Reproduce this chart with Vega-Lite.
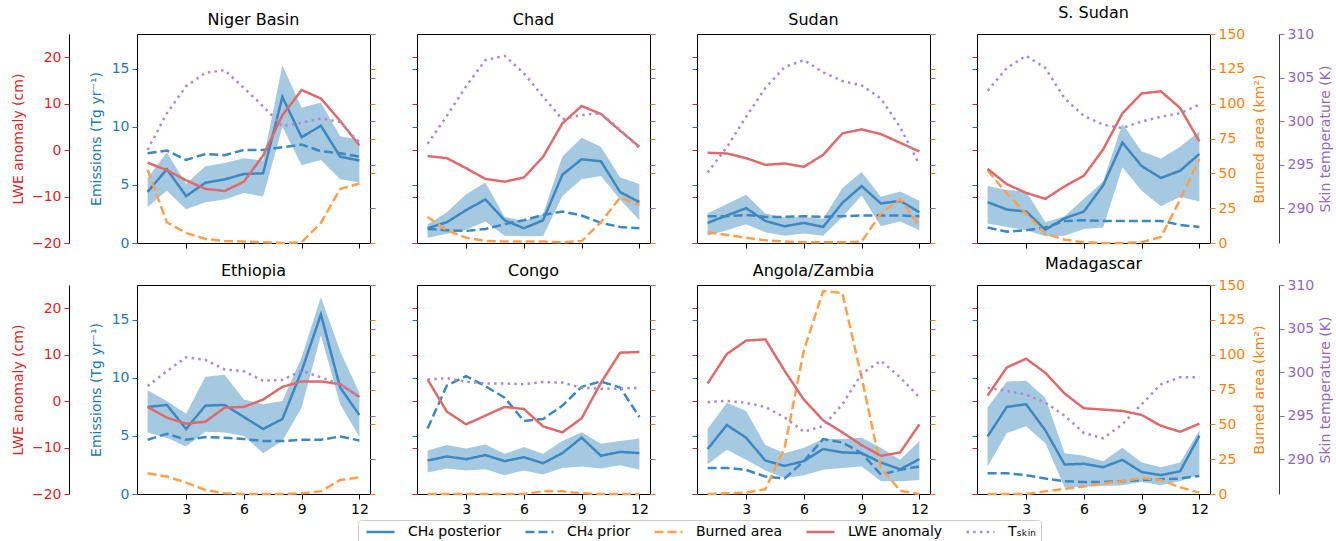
{
"$schema": "https://vega.github.io/schema/vega-lite/v6.json",
"padding": {"left": 10, "top": 4, "right": 0, "bottom": 0},
"datasets": {
"series": [
{"r":"Niger Basin","m":1,"post":4.4,"lo":3.1,"hi":5.6,"prior":7.73,"ba":52.7,"lwe":-2.7,"ts":296.7},
{"r":"Niger Basin","m":2,"post":6.35,"lo":4.5,"hi":7.8,"prior":7.96,"ba":14.9,"lwe":-4.3,"ts":300.9},
{"r":"Niger Basin","m":3,"post":4.04,"lo":2.9,"hi":5.1,"prior":7.15,"ba":7.2,"lwe":-6.5,"ts":304.0},
{"r":"Niger Basin","m":4,"post":5.19,"lo":3.5,"hi":6.6,"prior":7.67,"ba":2.9,"lwe":-8.35,"ts":305.55},
{"r":"Niger Basin","m":5,"post":5.48,"lo":3.75,"hi":6.9,"prior":7.56,"ba":1.4,"lwe":-8.8,"ts":305.86},
{"r":"Niger Basin","m":6,"post":5.94,"lo":4.3,"hi":7.3,"prior":8.02,"ba":1.0,"lwe":-6.8,"ts":303.8},
{"r":"Niger Basin","m":7,"post":6.0,"lo":4.0,"hi":7.1,"prior":8.02,"ba":0.5,"lwe":-1.15,"ts":301.7},
{"r":"Niger Basin","m":8,"post":12.58,"lo":10.0,"hi":15.3,"prior":8.25,"ba":0,"lwe":7.5,"ts":299.4},
{"r":"Niger Basin","m":9,"post":9.11,"lo":6.7,"hi":11.65,"prior":8.48,"ba":0.5,"lwe":12.95,"ts":299.8},
{"r":"Niger Basin","m":10,"post":10.1,"lo":7.15,"hi":12.1,"prior":7.9,"ba":14.4,"lwe":11.1,"ts":300.3},
{"r":"Niger Basin","m":11,"post":7.44,"lo":5.5,"hi":9.2,"prior":7.73,"ba":38.8,"lwe":6.3,"ts":299.9},
{"r":"Niger Basin","m":12,"post":7.1,"lo":5.2,"hi":8.9,"prior":7.44,"ba":42.7,"lwe":1.0,"ts":297.5},
{"r":"Chad","m":1,"post":1.27,"lo":0.46,"hi":1.6,"prior":1.21,"ba":18.7,"lwe":-1.29,"ts":297.4},
{"r":"Chad","m":2,"post":1.79,"lo":0.8,"hi":2.65,"prior":1.1,"ba":9.1,"lwe":-1.73,"ts":300.6},
{"r":"Chad","m":3,"post":2.83,"lo":1.15,"hi":4.2,"prior":1.04,"ba":3.8,"lwe":-3.9,"ts":304.0},
{"r":"Chad","m":4,"post":3.75,"lo":1.85,"hi":5.2,"prior":1.21,"ba":1.4,"lwe":-6.2,"ts":307.0},
{"r":"Chad","m":5,"post":1.96,"lo":0.63,"hi":2.25,"prior":1.62,"ba":1.0,"lwe":-6.8,"ts":307.5},
{"r":"Chad","m":6,"post":1.27,"lo":0.58,"hi":1.9,"prior":1.96,"ba":1.0,"lwe":-5.9,"ts":305.5},
{"r":"Chad","m":7,"post":1.96,"lo":0.6,"hi":2.5,"prior":2.42,"ba":1.0,"lwe":-1.44,"ts":302.8},
{"r":"Chad","m":8,"post":5.88,"lo":4.04,"hi":7.44,"prior":2.71,"ba":0.5,"lwe":5.76,"ts":300.2},
{"r":"Chad","m":9,"post":7.21,"lo":5.48,"hi":9.06,"prior":2.37,"ba":1.4,"lwe":9.5,"ts":300.7},
{"r":"Chad","m":10,"post":7.04,"lo":5.77,"hi":8.3,"prior":1.73,"ba":14.9,"lwe":7.77,"ts":300.9},
{"r":"Chad","m":11,"post":4.38,"lo":3.75,"hi":5.65,"prior":1.38,"ba":32.6,"lwe":4.17,"ts":299.0},
{"r":"Chad","m":12,"post":3.52,"lo":1.96,"hi":5.08,"prior":1.27,"ba":27.3,"lwe":0.72,"ts":296.9},
{"r":"Sudan","m":1,"post":1.73,"lo":0.63,"hi":2.54,"prior":2.31,"ba":7.7,"lwe":-0.58,"ts":294.1},
{"r":"Sudan","m":2,"post":2.37,"lo":1.1,"hi":3.35,"prior":2.31,"ba":5.8,"lwe":-0.72,"ts":297.0},
{"r":"Sudan","m":3,"post":3.0,"lo":1.62,"hi":4.15,"prior":2.42,"ba":3.8,"lwe":-1.73,"ts":300.5},
{"r":"Sudan","m":4,"post":1.9,"lo":0.92,"hi":2.54,"prior":2.25,"ba":1.9,"lwe":-3.17,"ts":303.8},
{"r":"Sudan","m":5,"post":1.44,"lo":0.63,"hi":2.19,"prior":2.25,"ba":1.0,"lwe":-2.88,"ts":306.2},
{"r":"Sudan","m":6,"post":1.73,"lo":0.81,"hi":2.25,"prior":2.31,"ba":0.5,"lwe":-3.6,"ts":307.0},
{"r":"Sudan","m":7,"post":1.38,"lo":0.63,"hi":2.08,"prior":2.25,"ba":0.5,"lwe":-1.0,"ts":305.6},
{"r":"Sudan","m":8,"post":3.46,"lo":2.25,"hi":4.73,"prior":2.31,"ba":0.5,"lwe":3.6,"ts":304.6},
{"r":"Sudan","m":9,"post":4.9,"lo":4.1,"hi":6.11,"prior":2.37,"ba":1.0,"lwe":4.46,"ts":304.1},
{"r":"Sudan","m":10,"post":3.4,"lo":1.44,"hi":3.98,"prior":2.37,"ba":21.1,"lwe":3.45,"ts":302.6},
{"r":"Sudan","m":11,"post":3.63,"lo":1.85,"hi":4.44,"prior":2.37,"ba":31.6,"lwe":1.58,"ts":299.3},
{"r":"Sudan","m":12,"post":2.65,"lo":1.1,"hi":3.63,"prior":2.31,"ba":12.5,"lwe":-0.29,"ts":295.0},
{"r":"S. Sudan","m":1,"post":3.52,"lo":1.67,"hi":4.9,"prior":1.33,"ba":52.2,"lwe":-4.03,"ts":303.5},
{"r":"S. Sudan","m":2,"post":2.88,"lo":1.38,"hi":4.56,"prior":0.98,"ba":35.5,"lwe":-7.34,"ts":306.1},
{"r":"S. Sudan","m":3,"post":2.71,"lo":1.1,"hi":4.44,"prior":1.1,"ba":21.1,"lwe":-9.2,"ts":307.5},
{"r":"S. Sudan","m":4,"post":1.15,"lo":0.58,"hi":1.79,"prior":1.33,"ba":6.7,"lwe":-10.5,"ts":306.1},
{"r":"S. Sudan","m":5,"post":2.13,"lo":0.63,"hi":2.31,"prior":1.9,"ba":2.4,"lwe":-7.8,"ts":302.6},
{"r":"S. Sudan","m":6,"post":2.71,"lo":1.21,"hi":3.81,"prior":1.96,"ba":0.5,"lwe":-5.5,"ts":300.6},
{"r":"S. Sudan","m":7,"post":4.96,"lo":1.33,"hi":5.3,"prior":1.9,"ba":0,"lwe":0.14,"ts":299.6},
{"r":"S. Sudan","m":8,"post":8.65,"lo":6.52,"hi":10.27,"prior":1.9,"ba":0,"lwe":7.9,"ts":299.2},
{"r":"S. Sudan","m":9,"post":6.63,"lo":4.5,"hi":7.9,"prior":1.9,"ba":0.5,"lwe":12.2,"ts":299.96},
{"r":"S. Sudan","m":10,"post":5.6,"lo":3.17,"hi":7.27,"prior":1.9,"ba":4.3,"lwe":12.66,"ts":300.5},
{"r":"S. Sudan","m":11,"post":6.23,"lo":3.98,"hi":8.3,"prior":1.56,"ba":31.2,"lwe":9.06,"ts":300.9},
{"r":"S. Sudan","m":12,"post":7.67,"lo":3.58,"hi":9.63,"prior":1.38,"ba":60.4,"lwe":1.87,"ts":301.9},
{"r":"Ethiopia","m":1,"post":7.5,"lo":5.3,"hi":8.94,"prior":4.67,"ba":14.9,"lwe":-1.25,"ts":298.4},
{"r":"Ethiopia","m":2,"post":7.67,"lo":4.85,"hi":8.0,"prior":5.19,"ba":12.5,"lwe":-3.56,"ts":300.1},
{"r":"Ethiopia","m":3,"post":5.6,"lo":4.1,"hi":6.92,"prior":4.67,"ba":8.2,"lwe":-4.86,"ts":301.7},
{"r":"Ethiopia","m":4,"post":7.61,"lo":5.36,"hi":10.1,"prior":4.9,"ba":2.9,"lwe":-4.43,"ts":301.4},
{"r":"Ethiopia","m":5,"post":7.67,"lo":5.3,"hi":10.27,"prior":4.85,"ba":0.5,"lwe":-1.4,"ts":300.3},
{"r":"Ethiopia","m":6,"post":6.63,"lo":5.0,"hi":8.13,"prior":4.73,"ba":0,"lwe":-1.25,"ts":300.1},
{"r":"Ethiopia","m":7,"post":5.6,"lo":3.52,"hi":7.73,"prior":4.56,"ba":0,"lwe":0.33,"ts":299.0},
{"r":"Ethiopia","m":8,"post":6.46,"lo":4.56,"hi":8.0,"prior":4.56,"ba":0,"lwe":3.07,"ts":299.1},
{"r":"Ethiopia","m":9,"post":10.6,"lo":7.44,"hi":11.77,"prior":4.67,"ba":0.5,"lwe":4.23,"ts":300.15},
{"r":"Ethiopia","m":10,"post":15.46,"lo":13.67,"hi":16.96,"prior":4.67,"ba":1.9,"lwe":4.23,"ts":299.4},
{"r":"Ethiopia","m":11,"post":9.17,"lo":7.73,"hi":12.3,"prior":4.96,"ba":10.1,"lwe":3.65,"ts":298.6},
{"r":"Ethiopia","m":12,"post":6.8,"lo":4.9,"hi":8.7,"prior":4.6,"ba":12.0,"lwe":0.9,"ts":297.1},
{"r":"Congo","m":1,"post":2.88,"lo":1.85,"hi":3.75,"prior":5.65,"ba":0,"lwe":4.66,"ts":299.15},
{"r":"Congo","m":2,"post":3.23,"lo":2.19,"hi":4.21,"prior":9.34,"ba":0,"lwe":-2.26,"ts":299.3},
{"r":"Congo","m":3,"post":3.0,"lo":2.02,"hi":3.92,"prior":10.15,"ba":0,"lwe":-5.0,"ts":298.9},
{"r":"Congo","m":4,"post":3.35,"lo":2.13,"hi":4.27,"prior":9.29,"ba":0,"lwe":-3.13,"ts":298.7},
{"r":"Congo","m":5,"post":2.83,"lo":1.62,"hi":3.46,"prior":8.3,"ba":0,"lwe":-1.25,"ts":298.7},
{"r":"Congo","m":6,"post":3.17,"lo":2.02,"hi":4.04,"prior":6.29,"ba":0,"lwe":-1.69,"ts":298.6},
{"r":"Congo","m":7,"post":2.65,"lo":1.67,"hi":3.46,"prior":6.46,"ba":1.9,"lwe":-5.44,"ts":298.85},
{"r":"Congo","m":8,"post":3.52,"lo":2.25,"hi":4.56,"prior":7.61,"ba":1.9,"lwe":-6.73,"ts":298.8},
{"r":"Congo","m":9,"post":4.85,"lo":2.37,"hi":5.31,"prior":9.23,"ba":0.5,"lwe":-3.71,"ts":298.2},
{"r":"Congo","m":10,"post":3.29,"lo":2.19,"hi":4.33,"prior":9.69,"ba":0,"lwe":3.94,"ts":298.1},
{"r":"Congo","m":11,"post":3.63,"lo":2.48,"hi":4.56,"prior":9.17,"ba":0,"lwe":10.43,"ts":298.1},
{"r":"Congo","m":12,"post":3.52,"lo":2.08,"hi":4.79,"prior":6.63,"ba":0,"lwe":10.57,"ts":298.2},
{"r":"Angola/Zambia","m":1,"post":3.87,"lo":2.54,"hi":5.6,"prior":2.25,"ba":0,"lwe":3.79,"ts":296.54},
{"r":"Angola/Zambia","m":2,"post":5.94,"lo":3.81,"hi":7.85,"prior":2.25,"ba":0.5,"lwe":10.14,"ts":296.7},
{"r":"Angola/Zambia","m":3,"post":4.85,"lo":2.94,"hi":7.15,"prior":2.08,"ba":1.0,"lwe":13.02,"ts":296.46},
{"r":"Angola/Zambia","m":4,"post":2.88,"lo":2.02,"hi":4.21,"prior":1.5,"ba":3.4,"lwe":13.3,"ts":296.0},
{"r":"Angola/Zambia","m":5,"post":2.42,"lo":1.38,"hi":3.52,"prior":1.33,"ba":33,"lwe":6.53,"ts":294.8},
{"r":"Angola/Zambia","m":6,"post":2.83,"lo":1.62,"hi":3.98,"prior":2.83,"ba":103,"lwe":0.33,"ts":293.15},
{"r":"Angola/Zambia","m":7,"post":3.87,"lo":2.08,"hi":4.73,"prior":4.73,"ba":145.7,"lwe":-4.14,"ts":293.8},
{"r":"Angola/Zambia","m":8,"post":3.58,"lo":2.25,"hi":4.73,"prior":4.44,"ba":144.2,"lwe":-6.73,"ts":296.3},
{"r":"Angola/Zambia","m":9,"post":3.52,"lo":2.37,"hi":4.85,"prior":3.52,"ba":83.7,"lwe":-9.47,"ts":299.8},
{"r":"Angola/Zambia","m":10,"post":2.71,"lo":1.1,"hi":3.98,"prior":1.67,"ba":18.75,"lwe":-11.78,"ts":301.3},
{"r":"Angola/Zambia","m":11,"post":2.13,"lo":1.1,"hi":2.94,"prior":2.08,"ba":2.4,"lwe":-11.06,"ts":299.4},
{"r":"Angola/Zambia","m":12,"post":3.0,"lo":1.21,"hi":4.56,"prior":2.37,"ba":0,"lwe":-5.0,"ts":297.1},
{"r":"Madagascar","m":1,"post":4.96,"lo":2.37,"hi":7.44,"prior":1.79,"ba":0,"lwe":1.2,"ts":298.2},
{"r":"Madagascar","m":2,"post":7.5,"lo":5.25,"hi":9.69,"prior":1.79,"ba":0,"lwe":7.25,"ts":297.85},
{"r":"Madagascar","m":3,"post":7.73,"lo":5.83,"hi":9.75,"prior":1.62,"ba":0,"lwe":9.13,"ts":297.4},
{"r":"Madagascar","m":4,"post":5.48,"lo":4.38,"hi":8.3,"prior":1.33,"ba":1.9,"lwe":6.1,"ts":296.5},
{"r":"Madagascar","m":5,"post":2.54,"lo":0.58,"hi":3.52,"prior":1.1,"ba":3.8,"lwe":1.63,"ts":295.0},
{"r":"Madagascar","m":6,"post":2.6,"lo":0.63,"hi":3.29,"prior":1.04,"ba":5.3,"lwe":-1.54,"ts":293.0},
{"r":"Madagascar","m":7,"post":2.31,"lo":0.69,"hi":2.83,"prior":1.04,"ba":7.7,"lwe":-1.83,"ts":292.4},
{"r":"Madagascar","m":8,"post":2.94,"lo":0.75,"hi":3.98,"prior":1.1,"ba":9.1,"lwe":-2.12,"ts":294.0},
{"r":"Madagascar","m":9,"post":1.9,"lo":1.04,"hi":2.71,"prior":1.21,"ba":11.5,"lwe":-2.98,"ts":296.3},
{"r":"Madagascar","m":10,"post":1.62,"lo":0.75,"hi":2.31,"prior":1.27,"ba":10.1,"lwe":-5.3,"ts":298.6},
{"r":"Madagascar","m":11,"post":1.96,"lo":1.1,"hi":2.71,"prior":1.33,"ba":4.8,"lwe":-6.6,"ts":299.4},
{"r":"Madagascar","m":12,"post":5.02,"lo":1.67,"hi":5.48,"prior":1.56,"ba":1.0,"lwe":-4.86,"ts":299.4}
],
"labels": [
{"r":"Niger Basin","tag":"(a)","r2":"r² = 0.7"},
{"r":"Chad","tag":"(b)","r2":"r² = 0.7"},
{"r":"Sudan","tag":"(c)","r2":"r² = 0.7"},
{"r":"S. Sudan","tag":"(d)","r2":"r² = 0.7"},
{"r":"Ethiopia","tag":"(e)","r2":"r² = 0.4"},
{"r":"Congo","tag":"(f)","r2":"r² = 0.0"},
{"r":"Angola/Zambia","tag":"(g)","r2":"r² = 0.2"},
{"r":"Madagascar","tag":"(h)","r2":"r² = 0.7"}
]
},
"concat": [
{"width":233,"height":209,"title":"Niger Basin","data":{"name":"series"},"transform":[{"filter":"datum.r === 'Niger Basin'"}],
"encoding":{"x":{"field":"m","type":"quantitative","scale":{"domain":[0.45,12.55],"nice":false,"zero":false},"axis":{"values":[3,6,9,12],"labels":false,"title":null,"tickColor":"black","domain":false,"grid":false}}},
"layer":[
{"mark":{"type":"area","color":"#a6c9e2","opacity":1},"encoding":{"y":{"field":"lo","type":"quantitative","scale":{"domain":[0,18],"nice":false,"zero":false},"axis":{"orient":"left","values":[0,5,10,15],"tickColor":"#1f77b4","labelColor":"#1f77b4","title":"Emissions (Tg yr⁻¹)","titleColor":"#1f77b4","titlePadding":8,"domain":false,"grid":false}},"y2":{"field":"hi"}}},
{"mark":{"type":"line","strokeWidth":2.5},"encoding":{"y":{"field":"post","type":"quantitative","scale":{"domain":[0,18],"nice":false,"zero":false},"axis":null},"color":{"datum":"CH₄ posterior","type":"nominal","scale":{"domain":["CH₄ posterior","CH₄ prior","Burned area","LWE anomaly","Tₛₖᵢₙ"],"range":["#3d88c0","#3d88c0","#ffa04f","#e06a6b","#ad89d4"]},"legend":{"orient":"none","legendX":221,"legendY":486,"direction":"horizontal","columns":5,"title":null}},"strokeDash":{"datum":"CH₄ posterior","type":"nominal","scale":{"domain":["CH₄ posterior","CH₄ prior","Burned area","LWE anomaly","Tₛₖᵢₙ"],"range":[[1,0],[9,4],[9,4],[1,0],[2.5,4.2]]},"legend":{"orient":"none","legendX":221,"legendY":486,"direction":"horizontal","columns":5,"title":null}}}},
{"mark":{"type":"line","strokeWidth":2.5},"encoding":{"y":{"field":"prior","type":"quantitative","scale":{"domain":[0,18],"nice":false,"zero":false},"axis":null},"color":{"datum":"CH₄ prior","type":"nominal","scale":{"domain":["CH₄ posterior","CH₄ prior","Burned area","LWE anomaly","Tₛₖᵢₙ"],"range":["#3d88c0","#3d88c0","#ffa04f","#e06a6b","#ad89d4"]}},"strokeDash":{"datum":"CH₄ prior","type":"nominal","scale":{"domain":["CH₄ posterior","CH₄ prior","Burned area","LWE anomaly","Tₛₖᵢₙ"],"range":[[1,0],[9,4],[9,4],[1,0],[2.5,4.2]]}}}},
{"mark":{"type":"line","strokeWidth":2.5},"encoding":{"y":{"field":"ba","type":"quantitative","scale":{"domain":[0,150],"nice":false,"zero":false},"axis":{"orient":"right","values":[0,25,50,75,100,125,150],"tickColor":"#ff7f0e","labels":false,"title":null,"domain":false,"grid":false}},"color":{"datum":"Burned area","type":"nominal","scale":{"domain":["CH₄ posterior","CH₄ prior","Burned area","LWE anomaly","Tₛₖᵢₙ"],"range":["#3d88c0","#3d88c0","#ffa04f","#e06a6b","#ad89d4"]}},"strokeDash":{"datum":"Burned area","type":"nominal","scale":{"domain":["CH₄ posterior","CH₄ prior","Burned area","LWE anomaly","Tₛₖᵢₙ"],"range":[[1,0],[9,4],[9,4],[1,0],[2.5,4.2]]}}}},
{"mark":{"type":"line","strokeWidth":2.5},"encoding":{"y":{"field":"lwe","type":"quantitative","scale":{"domain":[-20,25],"nice":false,"zero":false},"axis":{"orient":"left","offset":68,"values":[-20,-10,0,10,20],"tickColor":"#d62728","labelColor":"#d62728","title":"LWE anomaly (cm)","titleColor":"#d62728","titlePadding":6,"domain":true,"domainColor":"black","grid":false}},"color":{"datum":"LWE anomaly","type":"nominal","scale":{"domain":["CH₄ posterior","CH₄ prior","Burned area","LWE anomaly","Tₛₖᵢₙ"],"range":["#3d88c0","#3d88c0","#ffa04f","#e06a6b","#ad89d4"]}},"strokeDash":{"datum":"LWE anomaly","type":"nominal","scale":{"domain":["CH₄ posterior","CH₄ prior","Burned area","LWE anomaly","Tₛₖᵢₙ"],"range":[[1,0],[9,4],[9,4],[1,0],[2.5,4.2]]}}}},
{"mark":{"type":"line","strokeWidth":2.5},"encoding":{"y":{"field":"ts","type":"quantitative","scale":{"domain":[286,310],"nice":false,"zero":false},"axis":{"orient":"right","values":[290,295,300,305,310],"tickColor":"#9467bd","labels":false,"title":null,"domain":false,"grid":false}},"color":{"datum":"Tₛₖᵢₙ","type":"nominal","scale":{"domain":["CH₄ posterior","CH₄ prior","Burned area","LWE anomaly","Tₛₖᵢₙ"],"range":["#3d88c0","#3d88c0","#ffa04f","#e06a6b","#ad89d4"]}},"strokeDash":{"datum":"Tₛₖᵢₙ","type":"nominal","scale":{"domain":["CH₄ posterior","CH₄ prior","Burned area","LWE anomaly","Tₛₖᵢₙ"],"range":[[1,0],[9,4],[9,4],[1,0],[2.5,4.2]]}}}},
{"data":{"name":"labels"},"transform":[{"filter":"datum.r === 'Niger Basin'"}],"mark":{"type":"text","align":"left","baseline":"middle","fontSize":14,"color":"black"},"encoding":{"x":{"datum":1},"y":{"datum":16.4,"type":"quantitative","scale":{"domain":[0,18],"nice":false,"zero":false},"axis":null},"text":{"field":"tag"}}},
{"data":{"name":"labels"},"transform":[{"filter":"datum.r === 'Niger Basin'"}],"mark":{"type":"text","align":"left","baseline":"middle","fontSize":14,"color":"#d62728"},"encoding":{"x":{"datum":3},"y":{"datum":16.4,"type":"quantitative","scale":{"domain":[0,18],"nice":false,"zero":false},"axis":null},"text":{"field":"r2"}}}
],
"resolve":{"scale":{"y":"independent"},"axis":{"y":"independent"}}},

{"width":233,"height":209,"title":"Chad","data":{"name":"series"},"transform":[{"filter":"datum.r === 'Chad'"}],
"encoding":{"x":{"field":"m","type":"quantitative","scale":{"domain":[0.45,12.55],"nice":false,"zero":false},"axis":{"values":[3,6,9,12],"labels":false,"title":null,"tickColor":"black","domain":false,"grid":false}}},
"layer":[
{"mark":{"type":"area","color":"#a6c9e2","opacity":1},"encoding":{"y":{"field":"lo","type":"quantitative","scale":{"domain":[0,18],"nice":false,"zero":false},"axis":{"orient":"left","values":[0,5,10,15],"tickColor":"#1f77b4","labels":false,"title":null,"domain":false,"grid":false}},"y2":{"field":"hi"}}},
{"mark":{"type":"line","strokeWidth":2.5},"encoding":{"y":{"field":"post","type":"quantitative","scale":{"domain":[0,18],"nice":false,"zero":false},"axis":null},"color":{"datum":"CH₄ posterior","type":"nominal","scale":{"domain":["CH₄ posterior","CH₄ prior","Burned area","LWE anomaly","Tₛₖᵢₙ"],"range":["#3d88c0","#3d88c0","#ffa04f","#e06a6b","#ad89d4"]}},"strokeDash":{"datum":"CH₄ posterior","type":"nominal","scale":{"domain":["CH₄ posterior","CH₄ prior","Burned area","LWE anomaly","Tₛₖᵢₙ"],"range":[[1,0],[9,4],[9,4],[1,0],[2.5,4.2]]}}}},
{"mark":{"type":"line","strokeWidth":2.5},"encoding":{"y":{"field":"prior","type":"quantitative","scale":{"domain":[0,18],"nice":false,"zero":false},"axis":null},"color":{"datum":"CH₄ prior","type":"nominal","scale":{"domain":["CH₄ posterior","CH₄ prior","Burned area","LWE anomaly","Tₛₖᵢₙ"],"range":["#3d88c0","#3d88c0","#ffa04f","#e06a6b","#ad89d4"]}},"strokeDash":{"datum":"CH₄ prior","type":"nominal","scale":{"domain":["CH₄ posterior","CH₄ prior","Burned area","LWE anomaly","Tₛₖᵢₙ"],"range":[[1,0],[9,4],[9,4],[1,0],[2.5,4.2]]}}}},
{"mark":{"type":"line","strokeWidth":2.5},"encoding":{"y":{"field":"ba","type":"quantitative","scale":{"domain":[0,150],"nice":false,"zero":false},"axis":{"orient":"right","values":[0,25,50,75,100,125,150],"tickColor":"#ff7f0e","labels":false,"title":null,"domain":false,"grid":false}},"color":{"datum":"Burned area","type":"nominal","scale":{"domain":["CH₄ posterior","CH₄ prior","Burned area","LWE anomaly","Tₛₖᵢₙ"],"range":["#3d88c0","#3d88c0","#ffa04f","#e06a6b","#ad89d4"]}},"strokeDash":{"datum":"Burned area","type":"nominal","scale":{"domain":["CH₄ posterior","CH₄ prior","Burned area","LWE anomaly","Tₛₖᵢₙ"],"range":[[1,0],[9,4],[9,4],[1,0],[2.5,4.2]]}}}},
{"mark":{"type":"line","strokeWidth":2.5},"encoding":{"y":{"field":"lwe","type":"quantitative","scale":{"domain":[-20,25],"nice":false,"zero":false},"axis":{"orient":"left","values":[-20,-10,0,10,20],"tickColor":"#d62728","labels":false,"title":null,"domain":false,"grid":false}},"color":{"datum":"LWE anomaly","type":"nominal","scale":{"domain":["CH₄ posterior","CH₄ prior","Burned area","LWE anomaly","Tₛₖᵢₙ"],"range":["#3d88c0","#3d88c0","#ffa04f","#e06a6b","#ad89d4"]}},"strokeDash":{"datum":"LWE anomaly","type":"nominal","scale":{"domain":["CH₄ posterior","CH₄ prior","Burned area","LWE anomaly","Tₛₖᵢₙ"],"range":[[1,0],[9,4],[9,4],[1,0],[2.5,4.2]]}}}},
{"mark":{"type":"line","strokeWidth":2.5},"encoding":{"y":{"field":"ts","type":"quantitative","scale":{"domain":[286,310],"nice":false,"zero":false},"axis":{"orient":"right","values":[290,295,300,305,310],"tickColor":"#9467bd","labels":false,"title":null,"domain":false,"grid":false}},"color":{"datum":"Tₛₖᵢₙ","type":"nominal","scale":{"domain":["CH₄ posterior","CH₄ prior","Burned area","LWE anomaly","Tₛₖᵢₙ"],"range":["#3d88c0","#3d88c0","#ffa04f","#e06a6b","#ad89d4"]}},"strokeDash":{"datum":"Tₛₖᵢₙ","type":"nominal","scale":{"domain":["CH₄ posterior","CH₄ prior","Burned area","LWE anomaly","Tₛₖᵢₙ"],"range":[[1,0],[9,4],[9,4],[1,0],[2.5,4.2]]}}}},
{"data":{"name":"labels"},"transform":[{"filter":"datum.r === 'Chad'"}],"mark":{"type":"text","align":"left","baseline":"middle","fontSize":14,"color":"black"},"encoding":{"x":{"datum":1},"y":{"datum":16.4,"type":"quantitative","scale":{"domain":[0,18],"nice":false,"zero":false},"axis":null},"text":{"field":"tag"}}},
{"data":{"name":"labels"},"transform":[{"filter":"datum.r === 'Chad'"}],"mark":{"type":"text","align":"left","baseline":"middle","fontSize":14,"color":"#d62728"},"encoding":{"x":{"datum":3},"y":{"datum":16.4,"type":"quantitative","scale":{"domain":[0,18],"nice":false,"zero":false},"axis":null},"text":{"field":"r2"}}}
],
"resolve":{"scale":{"y":"independent"},"axis":{"y":"independent"}}},

{"width":233,"height":209,"title":"Sudan","data":{"name":"series"},"transform":[{"filter":"datum.r === 'Sudan'"}],
"encoding":{"x":{"field":"m","type":"quantitative","scale":{"domain":[0.45,12.55],"nice":false,"zero":false},"axis":{"values":[3,6,9,12],"labels":false,"title":null,"tickColor":"black","domain":false,"grid":false}}},
"layer":[
{"mark":{"type":"area","color":"#a6c9e2","opacity":1},"encoding":{"y":{"field":"lo","type":"quantitative","scale":{"domain":[0,18],"nice":false,"zero":false},"axis":{"orient":"left","values":[0,5,10,15],"tickColor":"#1f77b4","labels":false,"title":null,"domain":false,"grid":false}},"y2":{"field":"hi"}}},
{"mark":{"type":"line","strokeWidth":2.5},"encoding":{"y":{"field":"post","type":"quantitative","scale":{"domain":[0,18],"nice":false,"zero":false},"axis":null},"color":{"datum":"CH₄ posterior","type":"nominal","scale":{"domain":["CH₄ posterior","CH₄ prior","Burned area","LWE anomaly","Tₛₖᵢₙ"],"range":["#3d88c0","#3d88c0","#ffa04f","#e06a6b","#ad89d4"]}},"strokeDash":{"datum":"CH₄ posterior","type":"nominal","scale":{"domain":["CH₄ posterior","CH₄ prior","Burned area","LWE anomaly","Tₛₖᵢₙ"],"range":[[1,0],[9,4],[9,4],[1,0],[2.5,4.2]]}}}},
{"mark":{"type":"line","strokeWidth":2.5},"encoding":{"y":{"field":"prior","type":"quantitative","scale":{"domain":[0,18],"nice":false,"zero":false},"axis":null},"color":{"datum":"CH₄ prior","type":"nominal","scale":{"domain":["CH₄ posterior","CH₄ prior","Burned area","LWE anomaly","Tₛₖᵢₙ"],"range":["#3d88c0","#3d88c0","#ffa04f","#e06a6b","#ad89d4"]}},"strokeDash":{"datum":"CH₄ prior","type":"nominal","scale":{"domain":["CH₄ posterior","CH₄ prior","Burned area","LWE anomaly","Tₛₖᵢₙ"],"range":[[1,0],[9,4],[9,4],[1,0],[2.5,4.2]]}}}},
{"mark":{"type":"line","strokeWidth":2.5},"encoding":{"y":{"field":"ba","type":"quantitative","scale":{"domain":[0,150],"nice":false,"zero":false},"axis":{"orient":"right","values":[0,25,50,75,100,125,150],"tickColor":"#ff7f0e","labels":false,"title":null,"domain":false,"grid":false}},"color":{"datum":"Burned area","type":"nominal","scale":{"domain":["CH₄ posterior","CH₄ prior","Burned area","LWE anomaly","Tₛₖᵢₙ"],"range":["#3d88c0","#3d88c0","#ffa04f","#e06a6b","#ad89d4"]}},"strokeDash":{"datum":"Burned area","type":"nominal","scale":{"domain":["CH₄ posterior","CH₄ prior","Burned area","LWE anomaly","Tₛₖᵢₙ"],"range":[[1,0],[9,4],[9,4],[1,0],[2.5,4.2]]}}}},
{"mark":{"type":"line","strokeWidth":2.5},"encoding":{"y":{"field":"lwe","type":"quantitative","scale":{"domain":[-20,25],"nice":false,"zero":false},"axis":{"orient":"left","values":[-20,-10,0,10,20],"tickColor":"#d62728","labels":false,"title":null,"domain":false,"grid":false}},"color":{"datum":"LWE anomaly","type":"nominal","scale":{"domain":["CH₄ posterior","CH₄ prior","Burned area","LWE anomaly","Tₛₖᵢₙ"],"range":["#3d88c0","#3d88c0","#ffa04f","#e06a6b","#ad89d4"]}},"strokeDash":{"datum":"LWE anomaly","type":"nominal","scale":{"domain":["CH₄ posterior","CH₄ prior","Burned area","LWE anomaly","Tₛₖᵢₙ"],"range":[[1,0],[9,4],[9,4],[1,0],[2.5,4.2]]}}}},
{"mark":{"type":"line","strokeWidth":2.5},"encoding":{"y":{"field":"ts","type":"quantitative","scale":{"domain":[286,310],"nice":false,"zero":false},"axis":{"orient":"right","values":[290,295,300,305,310],"tickColor":"#9467bd","labels":false,"title":null,"domain":false,"grid":false}},"color":{"datum":"Tₛₖᵢₙ","type":"nominal","scale":{"domain":["CH₄ posterior","CH₄ prior","Burned area","LWE anomaly","Tₛₖᵢₙ"],"range":["#3d88c0","#3d88c0","#ffa04f","#e06a6b","#ad89d4"]}},"strokeDash":{"datum":"Tₛₖᵢₙ","type":"nominal","scale":{"domain":["CH₄ posterior","CH₄ prior","Burned area","LWE anomaly","Tₛₖᵢₙ"],"range":[[1,0],[9,4],[9,4],[1,0],[2.5,4.2]]}}}},
{"data":{"name":"labels"},"transform":[{"filter":"datum.r === 'Sudan'"}],"mark":{"type":"text","align":"left","baseline":"middle","fontSize":14,"color":"black"},"encoding":{"x":{"datum":1},"y":{"datum":16.4,"type":"quantitative","scale":{"domain":[0,18],"nice":false,"zero":false},"axis":null},"text":{"field":"tag"}}},
{"data":{"name":"labels"},"transform":[{"filter":"datum.r === 'Sudan'"}],"mark":{"type":"text","align":"left","baseline":"middle","fontSize":14,"color":"#d62728"},"encoding":{"x":{"datum":3},"y":{"datum":16.4,"type":"quantitative","scale":{"domain":[0,18],"nice":false,"zero":false},"axis":null},"text":{"field":"r2"}}}
],
"resolve":{"scale":{"y":"independent"},"axis":{"y":"independent"}}},

{"width":233,"height":209,"title":"S. Sudan","data":{"name":"series"},"transform":[{"filter":"datum.r === 'S. Sudan'"}],
"encoding":{"x":{"field":"m","type":"quantitative","scale":{"domain":[0.45,12.55],"nice":false,"zero":false},"axis":{"values":[3,6,9,12],"labels":false,"title":null,"tickColor":"black","domain":false,"grid":false}}},
"layer":[
{"mark":{"type":"area","color":"#a6c9e2","opacity":1},"encoding":{"y":{"field":"lo","type":"quantitative","scale":{"domain":[0,18],"nice":false,"zero":false},"axis":{"orient":"left","values":[0,5,10,15],"tickColor":"#1f77b4","labels":false,"title":null,"domain":false,"grid":false}},"y2":{"field":"hi"}}},
{"mark":{"type":"line","strokeWidth":2.5},"encoding":{"y":{"field":"post","type":"quantitative","scale":{"domain":[0,18],"nice":false,"zero":false},"axis":null},"color":{"datum":"CH₄ posterior","type":"nominal","scale":{"domain":["CH₄ posterior","CH₄ prior","Burned area","LWE anomaly","Tₛₖᵢₙ"],"range":["#3d88c0","#3d88c0","#ffa04f","#e06a6b","#ad89d4"]}},"strokeDash":{"datum":"CH₄ posterior","type":"nominal","scale":{"domain":["CH₄ posterior","CH₄ prior","Burned area","LWE anomaly","Tₛₖᵢₙ"],"range":[[1,0],[9,4],[9,4],[1,0],[2.5,4.2]]}}}},
{"mark":{"type":"line","strokeWidth":2.5},"encoding":{"y":{"field":"prior","type":"quantitative","scale":{"domain":[0,18],"nice":false,"zero":false},"axis":null},"color":{"datum":"CH₄ prior","type":"nominal","scale":{"domain":["CH₄ posterior","CH₄ prior","Burned area","LWE anomaly","Tₛₖᵢₙ"],"range":["#3d88c0","#3d88c0","#ffa04f","#e06a6b","#ad89d4"]}},"strokeDash":{"datum":"CH₄ prior","type":"nominal","scale":{"domain":["CH₄ posterior","CH₄ prior","Burned area","LWE anomaly","Tₛₖᵢₙ"],"range":[[1,0],[9,4],[9,4],[1,0],[2.5,4.2]]}}}},
{"mark":{"type":"line","strokeWidth":2.5},"encoding":{"y":{"field":"ba","type":"quantitative","scale":{"domain":[0,150],"nice":false,"zero":false},"axis":{"orient":"right","values":[0,25,50,75,100,125,150],"tickColor":"#ff7f0e","labelColor":"#ff7f0e","title":"Burned area (km²)","titleColor":"#ff7f0e","titleAngle":270,"titleBaseline":"top","titlePadding":8,"domain":false,"grid":false}},"color":{"datum":"Burned area","type":"nominal","scale":{"domain":["CH₄ posterior","CH₄ prior","Burned area","LWE anomaly","Tₛₖᵢₙ"],"range":["#3d88c0","#3d88c0","#ffa04f","#e06a6b","#ad89d4"]}},"strokeDash":{"datum":"Burned area","type":"nominal","scale":{"domain":["CH₄ posterior","CH₄ prior","Burned area","LWE anomaly","Tₛₖᵢₙ"],"range":[[1,0],[9,4],[9,4],[1,0],[2.5,4.2]]}}}},
{"mark":{"type":"line","strokeWidth":2.5},"encoding":{"y":{"field":"lwe","type":"quantitative","scale":{"domain":[-20,25],"nice":false,"zero":false},"axis":{"orient":"left","values":[-20,-10,0,10,20],"tickColor":"#d62728","labels":false,"title":null,"domain":false,"grid":false}},"color":{"datum":"LWE anomaly","type":"nominal","scale":{"domain":["CH₄ posterior","CH₄ prior","Burned area","LWE anomaly","Tₛₖᵢₙ"],"range":["#3d88c0","#3d88c0","#ffa04f","#e06a6b","#ad89d4"]}},"strokeDash":{"datum":"LWE anomaly","type":"nominal","scale":{"domain":["CH₄ posterior","CH₄ prior","Burned area","LWE anomaly","Tₛₖᵢₙ"],"range":[[1,0],[9,4],[9,4],[1,0],[2.5,4.2]]}}}},
{"mark":{"type":"line","strokeWidth":2.5},"encoding":{"y":{"field":"ts","type":"quantitative","scale":{"domain":[286,310],"nice":false,"zero":false},"axis":{"orient":"right","offset":69,"values":[290,295,300,305,310],"tickColor":"#9467bd","labelColor":"#9467bd","title":"Skin temperature (K)","titleColor":"#9467bd","titleAngle":270,"titleBaseline":"top","titlePadding":5,"domain":true,"domainColor":"#333333","grid":false}},"color":{"datum":"Tₛₖᵢₙ","type":"nominal","scale":{"domain":["CH₄ posterior","CH₄ prior","Burned area","LWE anomaly","Tₛₖᵢₙ"],"range":["#3d88c0","#3d88c0","#ffa04f","#e06a6b","#ad89d4"]}},"strokeDash":{"datum":"Tₛₖᵢₙ","type":"nominal","scale":{"domain":["CH₄ posterior","CH₄ prior","Burned area","LWE anomaly","Tₛₖᵢₙ"],"range":[[1,0],[9,4],[9,4],[1,0],[2.5,4.2]]}}}},
{"data":{"name":"labels"},"transform":[{"filter":"datum.r === 'S. Sudan'"}],"mark":{"type":"text","align":"left","baseline":"middle","fontSize":14,"color":"black"},"encoding":{"x":{"datum":1},"y":{"datum":16.4,"type":"quantitative","scale":{"domain":[0,18],"nice":false,"zero":false},"axis":null},"text":{"field":"tag"}}},
{"data":{"name":"labels"},"transform":[{"filter":"datum.r === 'S. Sudan'"}],"mark":{"type":"text","align":"left","baseline":"middle","fontSize":14,"color":"#d62728"},"encoding":{"x":{"datum":3},"y":{"datum":16.4,"type":"quantitative","scale":{"domain":[0,18],"nice":false,"zero":false},"axis":null},"text":{"field":"r2"}}}
],
"resolve":{"scale":{"y":"independent"},"axis":{"y":"independent"}}},

{"width":233,"height":209,"title":"Ethiopia","data":{"name":"series"},"transform":[{"filter":"datum.r === 'Ethiopia'"}],
"encoding":{"x":{"field":"m","type":"quantitative","scale":{"domain":[0.45,12.55],"nice":false,"zero":false},"axis":{"values":[3,6,9,12],"title":null,"tickColor":"black","labelColor":"black","domain":false,"grid":false}}},
"layer":[
{"mark":{"type":"area","color":"#a6c9e2","opacity":1},"encoding":{"y":{"field":"lo","type":"quantitative","scale":{"domain":[0,18],"nice":false,"zero":false},"axis":{"orient":"left","values":[0,5,10,15],"tickColor":"#1f77b4","labelColor":"#1f77b4","title":"Emissions (Tg yr⁻¹)","titleColor":"#1f77b4","titlePadding":8,"domain":false,"grid":false}},"y2":{"field":"hi"}}},
{"mark":{"type":"line","strokeWidth":2.5},"encoding":{"y":{"field":"post","type":"quantitative","scale":{"domain":[0,18],"nice":false,"zero":false},"axis":null},"color":{"datum":"CH₄ posterior","type":"nominal","scale":{"domain":["CH₄ posterior","CH₄ prior","Burned area","LWE anomaly","Tₛₖᵢₙ"],"range":["#3d88c0","#3d88c0","#ffa04f","#e06a6b","#ad89d4"]}},"strokeDash":{"datum":"CH₄ posterior","type":"nominal","scale":{"domain":["CH₄ posterior","CH₄ prior","Burned area","LWE anomaly","Tₛₖᵢₙ"],"range":[[1,0],[9,4],[9,4],[1,0],[2.5,4.2]]}}}},
{"mark":{"type":"line","strokeWidth":2.5},"encoding":{"y":{"field":"prior","type":"quantitative","scale":{"domain":[0,18],"nice":false,"zero":false},"axis":null},"color":{"datum":"CH₄ prior","type":"nominal","scale":{"domain":["CH₄ posterior","CH₄ prior","Burned area","LWE anomaly","Tₛₖᵢₙ"],"range":["#3d88c0","#3d88c0","#ffa04f","#e06a6b","#ad89d4"]}},"strokeDash":{"datum":"CH₄ prior","type":"nominal","scale":{"domain":["CH₄ posterior","CH₄ prior","Burned area","LWE anomaly","Tₛₖᵢₙ"],"range":[[1,0],[9,4],[9,4],[1,0],[2.5,4.2]]}}}},
{"mark":{"type":"line","strokeWidth":2.5},"encoding":{"y":{"field":"ba","type":"quantitative","scale":{"domain":[0,150],"nice":false,"zero":false},"axis":{"orient":"right","values":[0,25,50,75,100,125,150],"tickColor":"#ff7f0e","labels":false,"title":null,"domain":false,"grid":false}},"color":{"datum":"Burned area","type":"nominal","scale":{"domain":["CH₄ posterior","CH₄ prior","Burned area","LWE anomaly","Tₛₖᵢₙ"],"range":["#3d88c0","#3d88c0","#ffa04f","#e06a6b","#ad89d4"]}},"strokeDash":{"datum":"Burned area","type":"nominal","scale":{"domain":["CH₄ posterior","CH₄ prior","Burned area","LWE anomaly","Tₛₖᵢₙ"],"range":[[1,0],[9,4],[9,4],[1,0],[2.5,4.2]]}}}},
{"mark":{"type":"line","strokeWidth":2.5},"encoding":{"y":{"field":"lwe","type":"quantitative","scale":{"domain":[-20,25],"nice":false,"zero":false},"axis":{"orient":"left","offset":68,"values":[-20,-10,0,10,20],"tickColor":"#d62728","labelColor":"#d62728","title":"LWE anomaly (cm)","titleColor":"#d62728","titlePadding":6,"domain":true,"domainColor":"black","grid":false}},"color":{"datum":"LWE anomaly","type":"nominal","scale":{"domain":["CH₄ posterior","CH₄ prior","Burned area","LWE anomaly","Tₛₖᵢₙ"],"range":["#3d88c0","#3d88c0","#ffa04f","#e06a6b","#ad89d4"]}},"strokeDash":{"datum":"LWE anomaly","type":"nominal","scale":{"domain":["CH₄ posterior","CH₄ prior","Burned area","LWE anomaly","Tₛₖᵢₙ"],"range":[[1,0],[9,4],[9,4],[1,0],[2.5,4.2]]}}}},
{"mark":{"type":"line","strokeWidth":2.5},"encoding":{"y":{"field":"ts","type":"quantitative","scale":{"domain":[286,310],"nice":false,"zero":false},"axis":{"orient":"right","values":[290,295,300,305,310],"tickColor":"#9467bd","labels":false,"title":null,"domain":false,"grid":false}},"color":{"datum":"Tₛₖᵢₙ","type":"nominal","scale":{"domain":["CH₄ posterior","CH₄ prior","Burned area","LWE anomaly","Tₛₖᵢₙ"],"range":["#3d88c0","#3d88c0","#ffa04f","#e06a6b","#ad89d4"]}},"strokeDash":{"datum":"Tₛₖᵢₙ","type":"nominal","scale":{"domain":["CH₄ posterior","CH₄ prior","Burned area","LWE anomaly","Tₛₖᵢₙ"],"range":[[1,0],[9,4],[9,4],[1,0],[2.5,4.2]]}}}},
{"data":{"name":"labels"},"transform":[{"filter":"datum.r === 'Ethiopia'"}],"mark":{"type":"text","align":"left","baseline":"middle","fontSize":14,"color":"black"},"encoding":{"x":{"datum":1},"y":{"datum":16.4,"type":"quantitative","scale":{"domain":[0,18],"nice":false,"zero":false},"axis":null},"text":{"field":"tag"}}},
{"data":{"name":"labels"},"transform":[{"filter":"datum.r === 'Ethiopia'"}],"mark":{"type":"text","align":"left","baseline":"middle","fontSize":14,"color":"#d62728"},"encoding":{"x":{"datum":3},"y":{"datum":16.4,"type":"quantitative","scale":{"domain":[0,18],"nice":false,"zero":false},"axis":null},"text":{"field":"r2"}}}
],
"resolve":{"scale":{"y":"independent"},"axis":{"y":"independent"}}},

{"width":233,"height":209,"title":"Congo","data":{"name":"series"},"transform":[{"filter":"datum.r === 'Congo'"}],
"encoding":{"x":{"field":"m","type":"quantitative","scale":{"domain":[0.45,12.55],"nice":false,"zero":false},"axis":{"values":[3,6,9,12],"title":null,"tickColor":"black","labelColor":"black","domain":false,"grid":false}}},
"layer":[
{"mark":{"type":"area","color":"#a6c9e2","opacity":1},"encoding":{"y":{"field":"lo","type":"quantitative","scale":{"domain":[0,18],"nice":false,"zero":false},"axis":{"orient":"left","values":[0,5,10,15],"tickColor":"#1f77b4","labels":false,"title":null,"domain":false,"grid":false}},"y2":{"field":"hi"}}},
{"mark":{"type":"line","strokeWidth":2.5},"encoding":{"y":{"field":"post","type":"quantitative","scale":{"domain":[0,18],"nice":false,"zero":false},"axis":null},"color":{"datum":"CH₄ posterior","type":"nominal","scale":{"domain":["CH₄ posterior","CH₄ prior","Burned area","LWE anomaly","Tₛₖᵢₙ"],"range":["#3d88c0","#3d88c0","#ffa04f","#e06a6b","#ad89d4"]}},"strokeDash":{"datum":"CH₄ posterior","type":"nominal","scale":{"domain":["CH₄ posterior","CH₄ prior","Burned area","LWE anomaly","Tₛₖᵢₙ"],"range":[[1,0],[9,4],[9,4],[1,0],[2.5,4.2]]}}}},
{"mark":{"type":"line","strokeWidth":2.5},"encoding":{"y":{"field":"prior","type":"quantitative","scale":{"domain":[0,18],"nice":false,"zero":false},"axis":null},"color":{"datum":"CH₄ prior","type":"nominal","scale":{"domain":["CH₄ posterior","CH₄ prior","Burned area","LWE anomaly","Tₛₖᵢₙ"],"range":["#3d88c0","#3d88c0","#ffa04f","#e06a6b","#ad89d4"]}},"strokeDash":{"datum":"CH₄ prior","type":"nominal","scale":{"domain":["CH₄ posterior","CH₄ prior","Burned area","LWE anomaly","Tₛₖᵢₙ"],"range":[[1,0],[9,4],[9,4],[1,0],[2.5,4.2]]}}}},
{"mark":{"type":"line","strokeWidth":2.5},"encoding":{"y":{"field":"ba","type":"quantitative","scale":{"domain":[0,150],"nice":false,"zero":false},"axis":{"orient":"right","values":[0,25,50,75,100,125,150],"tickColor":"#ff7f0e","labels":false,"title":null,"domain":false,"grid":false}},"color":{"datum":"Burned area","type":"nominal","scale":{"domain":["CH₄ posterior","CH₄ prior","Burned area","LWE anomaly","Tₛₖᵢₙ"],"range":["#3d88c0","#3d88c0","#ffa04f","#e06a6b","#ad89d4"]}},"strokeDash":{"datum":"Burned area","type":"nominal","scale":{"domain":["CH₄ posterior","CH₄ prior","Burned area","LWE anomaly","Tₛₖᵢₙ"],"range":[[1,0],[9,4],[9,4],[1,0],[2.5,4.2]]}}}},
{"mark":{"type":"line","strokeWidth":2.5},"encoding":{"y":{"field":"lwe","type":"quantitative","scale":{"domain":[-20,25],"nice":false,"zero":false},"axis":{"orient":"left","values":[-20,-10,0,10,20],"tickColor":"#d62728","labels":false,"title":null,"domain":false,"grid":false}},"color":{"datum":"LWE anomaly","type":"nominal","scale":{"domain":["CH₄ posterior","CH₄ prior","Burned area","LWE anomaly","Tₛₖᵢₙ"],"range":["#3d88c0","#3d88c0","#ffa04f","#e06a6b","#ad89d4"]}},"strokeDash":{"datum":"LWE anomaly","type":"nominal","scale":{"domain":["CH₄ posterior","CH₄ prior","Burned area","LWE anomaly","Tₛₖᵢₙ"],"range":[[1,0],[9,4],[9,4],[1,0],[2.5,4.2]]}}}},
{"mark":{"type":"line","strokeWidth":2.5},"encoding":{"y":{"field":"ts","type":"quantitative","scale":{"domain":[286,310],"nice":false,"zero":false},"axis":{"orient":"right","values":[290,295,300,305,310],"tickColor":"#9467bd","labels":false,"title":null,"domain":false,"grid":false}},"color":{"datum":"Tₛₖᵢₙ","type":"nominal","scale":{"domain":["CH₄ posterior","CH₄ prior","Burned area","LWE anomaly","Tₛₖᵢₙ"],"range":["#3d88c0","#3d88c0","#ffa04f","#e06a6b","#ad89d4"]}},"strokeDash":{"datum":"Tₛₖᵢₙ","type":"nominal","scale":{"domain":["CH₄ posterior","CH₄ prior","Burned area","LWE anomaly","Tₛₖᵢₙ"],"range":[[1,0],[9,4],[9,4],[1,0],[2.5,4.2]]}}}},
{"data":{"name":"labels"},"transform":[{"filter":"datum.r === 'Congo'"}],"mark":{"type":"text","align":"left","baseline":"middle","fontSize":14,"color":"black"},"encoding":{"x":{"datum":1},"y":{"datum":16.4,"type":"quantitative","scale":{"domain":[0,18],"nice":false,"zero":false},"axis":null},"text":{"field":"tag"}}},
{"data":{"name":"labels"},"transform":[{"filter":"datum.r === 'Congo'"}],"mark":{"type":"text","align":"left","baseline":"middle","fontSize":14,"color":"#d62728"},"encoding":{"x":{"datum":3},"y":{"datum":16.4,"type":"quantitative","scale":{"domain":[0,18],"nice":false,"zero":false},"axis":null},"text":{"field":"r2"}}}
],
"resolve":{"scale":{"y":"independent"},"axis":{"y":"independent"}}},

{"width":233,"height":209,"title":"Angola/Zambia","data":{"name":"series"},"transform":[{"filter":"datum.r === 'Angola/Zambia'"}],
"encoding":{"x":{"field":"m","type":"quantitative","scale":{"domain":[0.45,12.55],"nice":false,"zero":false},"axis":{"values":[3,6,9,12],"title":null,"tickColor":"black","labelColor":"black","domain":false,"grid":false}}},
"layer":[
{"mark":{"type":"area","color":"#a6c9e2","opacity":1},"encoding":{"y":{"field":"lo","type":"quantitative","scale":{"domain":[0,18],"nice":false,"zero":false},"axis":{"orient":"left","values":[0,5,10,15],"tickColor":"#1f77b4","labels":false,"title":null,"domain":false,"grid":false}},"y2":{"field":"hi"}}},
{"mark":{"type":"line","strokeWidth":2.5},"encoding":{"y":{"field":"post","type":"quantitative","scale":{"domain":[0,18],"nice":false,"zero":false},"axis":null},"color":{"datum":"CH₄ posterior","type":"nominal","scale":{"domain":["CH₄ posterior","CH₄ prior","Burned area","LWE anomaly","Tₛₖᵢₙ"],"range":["#3d88c0","#3d88c0","#ffa04f","#e06a6b","#ad89d4"]}},"strokeDash":{"datum":"CH₄ posterior","type":"nominal","scale":{"domain":["CH₄ posterior","CH₄ prior","Burned area","LWE anomaly","Tₛₖᵢₙ"],"range":[[1,0],[9,4],[9,4],[1,0],[2.5,4.2]]}}}},
{"mark":{"type":"line","strokeWidth":2.5},"encoding":{"y":{"field":"prior","type":"quantitative","scale":{"domain":[0,18],"nice":false,"zero":false},"axis":null},"color":{"datum":"CH₄ prior","type":"nominal","scale":{"domain":["CH₄ posterior","CH₄ prior","Burned area","LWE anomaly","Tₛₖᵢₙ"],"range":["#3d88c0","#3d88c0","#ffa04f","#e06a6b","#ad89d4"]}},"strokeDash":{"datum":"CH₄ prior","type":"nominal","scale":{"domain":["CH₄ posterior","CH₄ prior","Burned area","LWE anomaly","Tₛₖᵢₙ"],"range":[[1,0],[9,4],[9,4],[1,0],[2.5,4.2]]}}}},
{"mark":{"type":"line","strokeWidth":2.5},"encoding":{"y":{"field":"ba","type":"quantitative","scale":{"domain":[0,150],"nice":false,"zero":false},"axis":{"orient":"right","values":[0,25,50,75,100,125,150],"tickColor":"#ff7f0e","labels":false,"title":null,"domain":false,"grid":false}},"color":{"datum":"Burned area","type":"nominal","scale":{"domain":["CH₄ posterior","CH₄ prior","Burned area","LWE anomaly","Tₛₖᵢₙ"],"range":["#3d88c0","#3d88c0","#ffa04f","#e06a6b","#ad89d4"]}},"strokeDash":{"datum":"Burned area","type":"nominal","scale":{"domain":["CH₄ posterior","CH₄ prior","Burned area","LWE anomaly","Tₛₖᵢₙ"],"range":[[1,0],[9,4],[9,4],[1,0],[2.5,4.2]]}}}},
{"mark":{"type":"line","strokeWidth":2.5},"encoding":{"y":{"field":"lwe","type":"quantitative","scale":{"domain":[-20,25],"nice":false,"zero":false},"axis":{"orient":"left","values":[-20,-10,0,10,20],"tickColor":"#d62728","labels":false,"title":null,"domain":false,"grid":false}},"color":{"datum":"LWE anomaly","type":"nominal","scale":{"domain":["CH₄ posterior","CH₄ prior","Burned area","LWE anomaly","Tₛₖᵢₙ"],"range":["#3d88c0","#3d88c0","#ffa04f","#e06a6b","#ad89d4"]}},"strokeDash":{"datum":"LWE anomaly","type":"nominal","scale":{"domain":["CH₄ posterior","CH₄ prior","Burned area","LWE anomaly","Tₛₖᵢₙ"],"range":[[1,0],[9,4],[9,4],[1,0],[2.5,4.2]]}}}},
{"mark":{"type":"line","strokeWidth":2.5},"encoding":{"y":{"field":"ts","type":"quantitative","scale":{"domain":[286,310],"nice":false,"zero":false},"axis":{"orient":"right","values":[290,295,300,305,310],"tickColor":"#9467bd","labels":false,"title":null,"domain":false,"grid":false}},"color":{"datum":"Tₛₖᵢₙ","type":"nominal","scale":{"domain":["CH₄ posterior","CH₄ prior","Burned area","LWE anomaly","Tₛₖᵢₙ"],"range":["#3d88c0","#3d88c0","#ffa04f","#e06a6b","#ad89d4"]}},"strokeDash":{"datum":"Tₛₖᵢₙ","type":"nominal","scale":{"domain":["CH₄ posterior","CH₄ prior","Burned area","LWE anomaly","Tₛₖᵢₙ"],"range":[[1,0],[9,4],[9,4],[1,0],[2.5,4.2]]}}}},
{"data":{"name":"labels"},"transform":[{"filter":"datum.r === 'Angola/Zambia'"}],"mark":{"type":"text","align":"left","baseline":"middle","fontSize":14,"color":"black"},"encoding":{"x":{"datum":1},"y":{"datum":16.4,"type":"quantitative","scale":{"domain":[0,18],"nice":false,"zero":false},"axis":null},"text":{"field":"tag"}}},
{"data":{"name":"labels"},"transform":[{"filter":"datum.r === 'Angola/Zambia'"}],"mark":{"type":"text","align":"left","baseline":"middle","fontSize":14,"color":"#d62728"},"encoding":{"x":{"datum":3},"y":{"datum":16.4,"type":"quantitative","scale":{"domain":[0,18],"nice":false,"zero":false},"axis":null},"text":{"field":"r2"}}}
],
"resolve":{"scale":{"y":"independent"},"axis":{"y":"independent"}}},

{"width":233,"height":209,"title":"Madagascar","data":{"name":"series"},"transform":[{"filter":"datum.r === 'Madagascar'"}],
"encoding":{"x":{"field":"m","type":"quantitative","scale":{"domain":[0.45,12.55],"nice":false,"zero":false},"axis":{"values":[3,6,9,12],"title":null,"tickColor":"black","labelColor":"black","domain":false,"grid":false}}},
"layer":[
{"mark":{"type":"area","color":"#a6c9e2","opacity":1},"encoding":{"y":{"field":"lo","type":"quantitative","scale":{"domain":[0,18],"nice":false,"zero":false},"axis":{"orient":"left","values":[0,5,10,15],"tickColor":"#1f77b4","labels":false,"title":null,"domain":false,"grid":false}},"y2":{"field":"hi"}}},
{"mark":{"type":"line","strokeWidth":2.5},"encoding":{"y":{"field":"post","type":"quantitative","scale":{"domain":[0,18],"nice":false,"zero":false},"axis":null},"color":{"datum":"CH₄ posterior","type":"nominal","scale":{"domain":["CH₄ posterior","CH₄ prior","Burned area","LWE anomaly","Tₛₖᵢₙ"],"range":["#3d88c0","#3d88c0","#ffa04f","#e06a6b","#ad89d4"]}},"strokeDash":{"datum":"CH₄ posterior","type":"nominal","scale":{"domain":["CH₄ posterior","CH₄ prior","Burned area","LWE anomaly","Tₛₖᵢₙ"],"range":[[1,0],[9,4],[9,4],[1,0],[2.5,4.2]]}}}},
{"mark":{"type":"line","strokeWidth":2.5},"encoding":{"y":{"field":"prior","type":"quantitative","scale":{"domain":[0,18],"nice":false,"zero":false},"axis":null},"color":{"datum":"CH₄ prior","type":"nominal","scale":{"domain":["CH₄ posterior","CH₄ prior","Burned area","LWE anomaly","Tₛₖᵢₙ"],"range":["#3d88c0","#3d88c0","#ffa04f","#e06a6b","#ad89d4"]}},"strokeDash":{"datum":"CH₄ prior","type":"nominal","scale":{"domain":["CH₄ posterior","CH₄ prior","Burned area","LWE anomaly","Tₛₖᵢₙ"],"range":[[1,0],[9,4],[9,4],[1,0],[2.5,4.2]]}}}},
{"mark":{"type":"line","strokeWidth":2.5},"encoding":{"y":{"field":"ba","type":"quantitative","scale":{"domain":[0,150],"nice":false,"zero":false},"axis":{"orient":"right","values":[0,25,50,75,100,125,150],"tickColor":"#ff7f0e","labelColor":"#ff7f0e","title":"Burned area (km²)","titleColor":"#ff7f0e","titleAngle":270,"titleBaseline":"top","titlePadding":8,"domain":false,"grid":false}},"color":{"datum":"Burned area","type":"nominal","scale":{"domain":["CH₄ posterior","CH₄ prior","Burned area","LWE anomaly","Tₛₖᵢₙ"],"range":["#3d88c0","#3d88c0","#ffa04f","#e06a6b","#ad89d4"]}},"strokeDash":{"datum":"Burned area","type":"nominal","scale":{"domain":["CH₄ posterior","CH₄ prior","Burned area","LWE anomaly","Tₛₖᵢₙ"],"range":[[1,0],[9,4],[9,4],[1,0],[2.5,4.2]]}}}},
{"mark":{"type":"line","strokeWidth":2.5},"encoding":{"y":{"field":"lwe","type":"quantitative","scale":{"domain":[-20,25],"nice":false,"zero":false},"axis":{"orient":"left","values":[-20,-10,0,10,20],"tickColor":"#d62728","labels":false,"title":null,"domain":false,"grid":false}},"color":{"datum":"LWE anomaly","type":"nominal","scale":{"domain":["CH₄ posterior","CH₄ prior","Burned area","LWE anomaly","Tₛₖᵢₙ"],"range":["#3d88c0","#3d88c0","#ffa04f","#e06a6b","#ad89d4"]}},"strokeDash":{"datum":"LWE anomaly","type":"nominal","scale":{"domain":["CH₄ posterior","CH₄ prior","Burned area","LWE anomaly","Tₛₖᵢₙ"],"range":[[1,0],[9,4],[9,4],[1,0],[2.5,4.2]]}}}},
{"mark":{"type":"line","strokeWidth":2.5},"encoding":{"y":{"field":"ts","type":"quantitative","scale":{"domain":[286,310],"nice":false,"zero":false},"axis":{"orient":"right","offset":69,"values":[290,295,300,305,310],"tickColor":"#9467bd","labelColor":"#9467bd","title":"Skin temperature (K)","titleColor":"#9467bd","titleAngle":270,"titleBaseline":"top","titlePadding":5,"domain":true,"domainColor":"#333333","grid":false}},"color":{"datum":"Tₛₖᵢₙ","type":"nominal","scale":{"domain":["CH₄ posterior","CH₄ prior","Burned area","LWE anomaly","Tₛₖᵢₙ"],"range":["#3d88c0","#3d88c0","#ffa04f","#e06a6b","#ad89d4"]}},"strokeDash":{"datum":"Tₛₖᵢₙ","type":"nominal","scale":{"domain":["CH₄ posterior","CH₄ prior","Burned area","LWE anomaly","Tₛₖᵢₙ"],"range":[[1,0],[9,4],[9,4],[1,0],[2.5,4.2]]}}}},
{"data":{"name":"labels"},"transform":[{"filter":"datum.r === 'Madagascar'"}],"mark":{"type":"text","align":"left","baseline":"middle","fontSize":14,"color":"black"},"encoding":{"x":{"datum":1},"y":{"datum":16.4,"type":"quantitative","scale":{"domain":[0,18],"nice":false,"zero":false},"axis":null},"text":{"field":"tag"}}},
{"data":{"name":"labels"},"transform":[{"filter":"datum.r === 'Madagascar'"}],"mark":{"type":"text","align":"left","baseline":"middle","fontSize":14,"color":"#d62728"},"encoding":{"x":{"datum":3},"y":{"datum":16.4,"type":"quantitative","scale":{"domain":[0,18],"nice":false,"zero":false},"axis":null},"text":{"field":"r2"}}}
],
"resolve":{"scale":{"y":"independent"},"axis":{"y":"independent"}}}
],
"columns": 4,
"spacing": {"row": 42, "column": 47},
"bounds": "flush",
"resolve": {"scale": {"color": "shared", "strokeDash": "shared"}, "legend": {"color": "shared", "strokeDash": "shared"}},
"config": {
"font": "DejaVu Sans",
"view": {"stroke": "black", "strokeWidth": 1},
"axis": {"grid": false, "tickSize": 5, "tickWidth": 1, "labelFontSize": 14, "titleFontSize": 14, "titleFontWeight": "normal", "labelPadding": 3, "labelFlush": false, "labelFont": "DejaVu Sans", "titleFont": "DejaVu Sans"},
"title": {"fontSize": 16, "fontWeight": "normal", "offset": 6, "color": "black", "font": "DejaVu Sans"},
"legend": {"symbolType": "M-4,0H4", "symbolSize": 49, "symbolOffset": 10.5, "symbolStrokeWidth": 2.5, "labelFontSize": 14, "labelFont": "DejaVu Sans", "labelColor": "black", "strokeColor": "#cccccc", "fillColor": "white", "cornerRadius": 3, "padding": 5, "columnPadding": 18, "labelOffset": 20.5},
"text": {"font": "DejaVu Sans"}
}
}
